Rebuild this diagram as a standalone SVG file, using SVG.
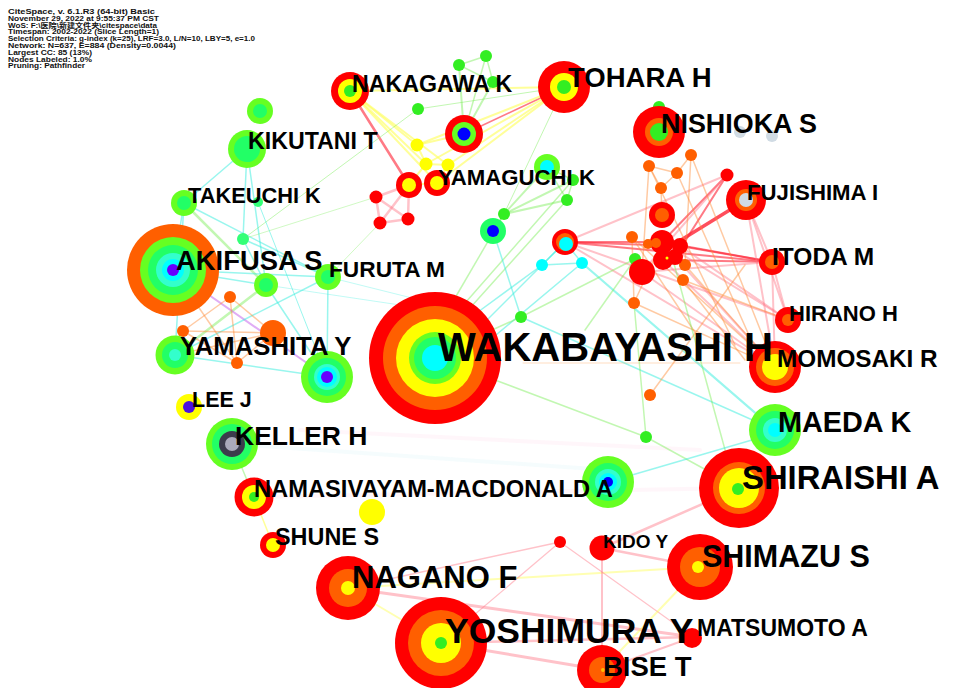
<svg xmlns="http://www.w3.org/2000/svg" width="967" height="688" viewBox="0 0 967 688">
<style>
.hd{font-family:"Liberation Sans","Noto Sans CJK SC",Arial,sans-serif;font-weight:bold;font-size:6.6px;fill:#111}
.lb{font-family:"Liberation Sans",Arial,sans-serif;font-weight:bold;fill:#000}
#edges line{stroke-linecap:round;fill:none}
.ec{stroke:#33eedd;stroke-opacity:.5;stroke-width:1.5}
.eg{stroke:#77ee55;stroke-opacity:.45;stroke-width:1.5}
.ey{stroke:#ffff55;stroke-opacity:.6;stroke-width:2}
.eo{stroke:#ff8a33;stroke-opacity:.45;stroke-width:1.5}
.er{stroke:#ff2233;stroke-opacity:.6;stroke-width:2}
.ep{stroke:#ff7788;stroke-opacity:.45;stroke-width:2}
.ev{stroke:#cc77ee;stroke-opacity:.6;stroke-width:2}
.ef{stroke:#99ddee;stroke-opacity:.1;stroke-width:4}
.rr{fill:#ff0000}.ro{fill:#ff5f00}.ry{fill:#ffff00}.rg{fill:#66ff22}.rm{fill:#22ff66}
.rt{fill:#33ffcc}.rc{fill:#00ffff}.rp{fill:#6600ff}.rb{fill:#0000ff}.rk{fill:#3c3c4c}
.rs{fill:#aaaabb}.rl{fill:#d0dbe4}.gs{fill:#33ee22}.gm{fill:#33ff77}
</style>
<rect width="967" height="688" fill="#fff"/>
<g id="header">
<text class="hd" x="8" y="14" textLength="147" lengthAdjust="spacingAndGlyphs">CiteSpace, v. 6.1.R3 (64-bit) Basic</text>
<text class="hd" x="8" y="20.8" textLength="151" lengthAdjust="spacingAndGlyphs">November 29, 2022 at 9:55:37 PM CST</text>
<text class="hd" x="8" y="27.6" textLength="149" lengthAdjust="spacingAndGlyphs">WoS: F:\医院\新建文件夹\citespace\data</text>
<text class="hd" x="8" y="34.4" textLength="151" lengthAdjust="spacingAndGlyphs">Timespan: 2002-2022 (Slice Length=1)</text>
<text class="hd" x="8" y="41.2" textLength="247" lengthAdjust="spacingAndGlyphs">Selection Criteria: g-index (k=25), LRF=3.0, L/N=10, LBY=5, e=1.0</text>
<text class="hd" x="8" y="48" textLength="168" lengthAdjust="spacingAndGlyphs">Network: N=637, E=884 (Density=0.0044)</text>
<text class="hd" x="8" y="54.8" textLength="84" lengthAdjust="spacingAndGlyphs">Largest CC: 85 (13%)</text>
<text class="hd" x="8" y="61.6" textLength="84" lengthAdjust="spacingAndGlyphs">Nodes Labeled: 1.0%</text>
<text class="hd" x="8" y="68.4" textLength="77" lengthAdjust="spacingAndGlyphs">Pruning: Pathfinder</text>
</g>
<g id="edges">
<line class="ef" x1="232" y1="444" x2="608" y2="470"/>
<line class="ef" x1="300" y1="430" x2="700" y2="450" style="stroke:#ffaacc"/>
<line class="ef" x1="254" y1="497" x2="739" y2="488" style="stroke:#ffaacc"/>
<line class="ey" x1="350" y1="91" x2="417" y2="145"/>
<line class="ey" x1="350" y1="91" x2="426" y2="164"/>
<line class="ey" x1="350" y1="91" x2="448" y2="165"/>
<line class="er" x1="350" y1="91" x2="409" y2="185" style="stroke-width:2.5"/>
<line class="ey" x1="350" y1="91" x2="437" y2="183"/>
<line class="ey" x1="350" y1="91" x2="564" y2="87"/>
<line class="er" x1="564" y1="87" x2="464" y2="134" style="stroke-width:1.5"/>
<line class="ey" x1="564" y1="87" x2="448" y2="165"/>
<line class="ey" x1="564" y1="87" x2="426" y2="164"/>
<line class="ey" x1="564" y1="87" x2="437" y2="183"/>
<line class="ey" x1="564" y1="87" x2="417" y2="145"/>
<line class="eg" x1="564" y1="87" x2="418" y2="109" style="stroke-width:1"/>
<line class="ey" x1="464" y1="134" x2="417" y2="145"/>
<line class="eg" x1="464" y1="134" x2="459" y2="65" style="stroke-width:2"/>
<line class="eg" x1="464" y1="134" x2="493" y2="82" style="stroke-width:2"/>
<line class="eg" x1="464" y1="134" x2="486" y2="56"/>
<line class="eg" x1="459" y1="65" x2="486" y2="56"/>
<line class="eg" x1="486" y1="56" x2="493" y2="82"/>
<line class="eg" x1="459" y1="65" x2="493" y2="82"/>
<line class="ep" x1="376" y1="197" x2="380" y2="223" style="stroke-width:2.5"/>
<line class="ep" x1="376" y1="197" x2="408" y2="219" style="stroke-width:2.5"/>
<line class="ep" x1="380" y1="223" x2="408" y2="219" style="stroke-width:2.5"/>
<line class="ep" x1="376" y1="197" x2="409" y2="185" style="stroke-width:2.5"/>
<line class="ep" x1="408" y1="219" x2="409" y2="185" style="stroke-width:2.5"/>
<line class="ep" x1="380" y1="223" x2="409" y2="185" style="stroke-width:2.5"/>
<line class="eg" x1="418" y1="109" x2="243" y2="239" style="stroke-width:1"/>
<line class="ey" x1="409" y1="185" x2="437" y2="183"/>
<line class="ey" x1="417" y1="145" x2="426" y2="164"/>
<line class="ey" x1="426" y1="164" x2="448" y2="165"/>
<line class="ey" x1="448" y1="165" x2="437" y2="183"/>
<line class="ey" x1="426" y1="164" x2="409" y2="185"/>
<line class="eg" x1="564" y1="87" x2="504" y2="214" style="stroke-width:1"/>
<line class="eg" x1="504" y1="214" x2="547" y2="167" style="stroke-width:2"/>
<line class="eg" x1="504" y1="214" x2="573" y2="180" style="stroke-width:2"/>
<line class="eg" x1="504" y1="214" x2="567" y2="200" style="stroke-width:2"/>
<line class="eg" x1="547" y1="167" x2="573" y2="180"/>
<line class="eg" x1="567" y1="200" x2="573" y2="180"/>
<line class="eg" x1="547" y1="167" x2="567" y2="200"/>
<line class="eg" x1="567" y1="200" x2="470" y2="308"/>
<line class="eg" x1="573" y1="180" x2="466" y2="302"/>
<line class="eg" x1="504" y1="214" x2="455" y2="298"/>
<line class="eg" x1="504" y1="214" x2="493" y2="231"/>
<line class="ec" x1="493" y1="231" x2="521" y2="317"/>
<line class="ec" x1="565" y1="242" x2="542" y2="265"/>
<line class="ec" x1="542" y1="265" x2="582" y2="263"/>
<line class="ec" x1="565" y1="242" x2="582" y2="263"/>
<line class="ec" x1="542" y1="265" x2="478" y2="312"/>
<line class="ec" x1="565" y1="242" x2="485" y2="322"/>
<line class="ec" x1="582" y1="263" x2="490" y2="340"/>
<line class="ec" x1="582" y1="263" x2="775" y2="430" style="stroke-width:2.2"/>
<line class="ec" x1="521" y1="317" x2="775" y2="430"/>
<line class="er" x1="565" y1="242" x2="772" y2="262"/>
<line class="ep" x1="565" y1="242" x2="727" y2="175"/>
<line class="er" x1="565" y1="242" x2="662" y2="242"/>
<line class="ep" x1="565" y1="242" x2="788" y2="320"/>
<line class="ep" x1="565" y1="242" x2="775" y2="367"/>
<line class="er" x1="565" y1="242" x2="680" y2="246"/>
<line class="er" x1="746" y1="200" x2="668" y2="248" style="stroke-width:3.5;stroke-opacity:.8"/>
<line class="er" x1="727" y1="175" x2="662" y2="242"/>
<line class="er" x1="727" y1="175" x2="675" y2="257"/>
<line class="ep" x1="727" y1="175" x2="642" y2="272"/>
<line class="er" x1="662" y1="242" x2="772" y2="262"/>
<line class="er" x1="680" y1="246" x2="772" y2="262"/>
<line class="er" x1="663" y1="260" x2="772" y2="262"/>
<line class="ep" x1="642" y1="272" x2="772" y2="262"/>
<line class="ep" x1="746" y1="200" x2="772" y2="262"/>
<line class="ep" x1="746" y1="200" x2="788" y2="320"/>
<line class="ep" x1="746" y1="200" x2="775" y2="367"/>
<line class="ep" x1="772" y1="262" x2="788" y2="320"/>
<line class="ep" x1="772" y1="262" x2="775" y2="367"/>
<line class="ep" x1="662" y1="242" x2="788" y2="320"/>
<line class="ep" x1="680" y1="246" x2="788" y2="320"/>
<line class="ep" x1="663" y1="260" x2="775" y2="367"/>
<line class="ep" x1="642" y1="272" x2="775" y2="367"/>
<line class="ep" x1="675" y1="257" x2="760" y2="350"/>
<line class="eo" x1="649" y1="166" x2="677" y2="173"/>
<line class="eo" x1="677" y1="173" x2="691" y2="155"/>
<line class="eo" x1="661" y1="188" x2="677" y2="173"/>
<line class="eo" x1="649" y1="166" x2="661" y2="188"/>
<line class="eo" x1="661" y1="188" x2="662" y2="215"/>
<line class="eo" x1="649" y1="166" x2="642" y2="272"/>
<line class="eo" x1="691" y1="155" x2="775" y2="367"/>
<line class="eo" x1="677" y1="173" x2="760" y2="360"/>
<line class="eo" x1="691" y1="155" x2="685" y2="265"/>
<line class="eo" x1="649" y1="166" x2="735" y2="345"/>
<line class="eo" x1="632" y1="237" x2="775" y2="367"/>
<line class="eo" x1="685" y1="265" x2="775" y2="367"/>
<line class="eo" x1="683" y1="280" x2="788" y2="320"/>
<line class="eo" x1="683" y1="280" x2="745" y2="360"/>
<line class="eo" x1="632" y1="237" x2="634" y2="303"/>
<line class="eo" x1="634" y1="303" x2="662" y2="242"/>
<line class="eo" x1="634" y1="303" x2="775" y2="367"/>
<line class="eo" x1="632" y1="237" x2="700" y2="340"/>
<line class="eo" x1="650" y1="395" x2="745" y2="265"/>
<line class="eo" x1="523" y1="363" x2="740" y2="363" style="stroke-opacity:.3;stroke-width:1"/>
<line class="eg" x1="634" y1="303" x2="646" y2="437"/>
<line class="eg" x1="646" y1="437" x2="739" y2="488"/>
<line class="eg" x1="495" y1="380" x2="646" y2="437"/>
<line class="eg" x1="673" y1="260" x2="727" y2="457"/>
<line class="eg" x1="635" y1="259" x2="521" y2="317"/>
<line class="eg" x1="521" y1="317" x2="492" y2="330"/>
<line class="eg" x1="635" y1="259" x2="585" y2="330"/>
<line class="ec" x1="608" y1="482" x2="752" y2="440"/>
<line class="ep" x1="348" y1="588" x2="560" y2="542" style="stroke-width:1.5"/>
<line class="ey" x1="348" y1="588" x2="700" y2="567" style="stroke-opacity:.45"/>
<line class="ep" x1="348" y1="588" x2="693" y2="637" style="stroke-width:3"/>
<line class="ey" x1="348" y1="588" x2="441" y2="643" style="stroke-opacity:.45"/>
<line class="ep" x1="441" y1="643" x2="560" y2="542" style="stroke-width:1.2"/>
<line class="ep" x1="560" y1="542" x2="693" y2="637" style="stroke-width:1.2"/>
<line class="ep" x1="602" y1="548" x2="602" y2="650"/>
<line class="ep" x1="602" y1="548" x2="700" y2="567" style="stroke-width:2.5"/>
<line class="ep" x1="602" y1="548" x2="739" y2="488" style="stroke-width:2.5"/>
<line class="ey" x1="700" y1="567" x2="602" y2="670" style="stroke-opacity:.45"/>
<line class="ep" x1="441" y1="643" x2="602" y2="670" style="stroke-width:3"/>
<line class="ep" x1="441" y1="643" x2="693" y2="637" style="stroke-width:2.5"/>
<line class="ep" x1="602" y1="670" x2="693" y2="637"/>
<line class="eg" x1="232" y1="444" x2="254" y2="497"/>
<line class="ey" x1="254" y1="497" x2="273" y2="545" style="stroke-width:1.5"/>
<line class="ec" x1="173" y1="270" x2="184" y2="203"/>
<line class="ec" x1="184" y1="203" x2="247" y2="149"/>
<line class="ec" x1="247" y1="149" x2="266" y2="285"/>
<line class="ec" x1="247" y1="149" x2="243" y2="239"/>
<line class="ec" x1="184" y1="203" x2="328" y2="277"/>
<line class="eg" x1="184" y1="203" x2="266" y2="285" style="stroke-width:2.5"/>
<line class="ec" x1="173" y1="270" x2="328" y2="277"/>
<line class="ec" x1="173" y1="270" x2="266" y2="285"/>
<line class="ec" x1="243" y1="239" x2="328" y2="277"/>
<line class="ec" x1="243" y1="239" x2="266" y2="285"/>
<line class="eg" x1="266" y1="285" x2="175" y2="355" style="stroke-width:2.5"/>
<line class="ec" x1="266" y1="285" x2="327" y2="377"/>
<line class="ec" x1="175" y1="355" x2="327" y2="377"/>
<line class="ev" x1="173" y1="270" x2="327" y2="377"/>
<line class="ec" x1="175" y1="355" x2="328" y2="277"/>
<line class="ec" x1="328" y1="277" x2="327" y2="377"/>
<line class="ec" x1="184" y1="203" x2="175" y2="355"/>
<line class="ec" x1="258" y1="202" x2="327" y2="377" style="stroke-width:1"/>
<line class="eo" x1="230" y1="297" x2="273" y2="333"/>
<line class="eo" x1="183" y1="331" x2="273" y2="333"/>
<line class="eo" x1="237" y1="363" x2="273" y2="333"/>
<line class="eo" x1="230" y1="297" x2="183" y2="331"/>
<line class="eo" x1="183" y1="331" x2="237" y2="363"/>
<line class="eo" x1="175" y1="355" x2="273" y2="333"/>
<line class="eo" x1="173" y1="270" x2="237" y2="363"/>
<line class="eo" x1="230" y1="297" x2="237" y2="363"/>
<line class="eg" x1="243" y1="239" x2="376" y2="197" style="stroke-width:1;stroke-opacity:.35"/>
<line class="eg" x1="328" y1="277" x2="380" y2="223" style="stroke-width:1;stroke-opacity:.35"/>
<line class="ec" x1="328" y1="277" x2="420" y2="300" style="stroke-width:1;stroke-opacity:.3"/>
<line class="ec" x1="266" y1="285" x2="400" y2="305" style="stroke-width:1;stroke-opacity:.3"/>
</g>
<g id="n-small">
<circle class="gs" cx="418" cy="109" r="6"/>
<circle class="gs" cx="459" cy="65" r="6"/>
<circle class="gs" cx="486" cy="56" r="6"/>
<circle class="gs" cx="493" cy="82" r="6"/>
<circle class="gs" cx="573" cy="180" r="6"/>
<circle class="gs" cx="567" cy="200" r="6"/>
<circle class="gs" cx="504" cy="214" r="6"/>
<circle class="gs" cx="659" cy="107" r="6"/>
<circle class="gm" cx="243" cy="239" r="6"/>
<circle class="gm" cx="258" cy="202" r="5"/>
<circle class="gs" cx="635" cy="259" r="6"/>
<circle class="gs" cx="521" cy="317" r="6"/>
<circle class="gs" cx="646" cy="437" r="6"/>
<circle class="rr" cx="376" cy="197" r="6.5"/>
<circle class="rr" cx="380" cy="223" r="6.5"/>
<circle class="rr" cx="408" cy="219" r="6.5"/>
<circle class="ry" cx="417" cy="145" r="6.5"/>
<circle class="ry" cx="426" cy="164" r="6.5"/>
<circle class="ry" cx="448" cy="165" r="6.5"/>
<circle class="rc" cx="542" cy="265" r="6"/>
<circle class="rc" cx="582" cy="263" r="6"/>
<circle class="rl" cx="740" cy="132" r="6"/>
<circle class="rl" cx="772" cy="136" r="6"/>
<circle class="ro" cx="691" cy="155" r="6"/>
<circle class="ro" cx="649" cy="166" r="6"/>
<circle class="ro" cx="677" cy="173" r="6"/>
<circle class="ro" cx="661" cy="188" r="6"/>
<circle class="ro" cx="632" cy="237" r="6"/>
<circle class="ro" cx="685" cy="265" r="6"/>
<circle class="ro" cx="683" cy="280" r="6"/>
<circle class="ro" cx="634" cy="303" r="6"/>
<circle class="ro" cx="650" cy="395" r="6"/>
<circle class="ro" cx="230" cy="297" r="6"/>
<circle class="ro" cx="183" cy="331" r="6"/>
<circle class="ro" cx="237" cy="363" r="6"/>
<circle class="ro" cx="273" cy="333" r="13"/>
<circle class="rr" cx="727" cy="175" r="6.5"/>
<circle class="rr" cx="560" cy="542" r="6"/>
<circle class="ry" cx="372" cy="512" r="13"/>
</g>
<g id="n-a1"><circle class="rg" cx="260" cy="111" r="13"/><circle class="rm" cx="260" cy="111" r="7"/></g>
<g id="n-a2"><circle class="rg" cx="266" cy="285" r="12"/><circle class="rm" cx="266" cy="285" r="7"/></g>
<g id="n-a3"><circle class="rg" cx="547" cy="167" r="13"/><circle class="rc" cx="547" cy="167" r="7"/></g>
<g id="n-a4"><circle class="rm" cx="493" cy="231" r="13"/><circle class="rb" cx="493" cy="231" r="6"/></g>
<g id="n-a5"><circle class="rr" cx="409" cy="185" r="13"/><circle class="ry" cx="409" cy="185" r="7"/></g>
<g id="n-a6"><circle class="rr" cx="464" cy="134" r="19"/><circle class="rg" cx="464" cy="134" r="12"/><circle class="rb" cx="464" cy="134" r="6.5"/></g>
<g id="n-a7"><circle class="rr" cx="565" cy="242" r="13"/><circle class="ro" cx="565" cy="242" r="9"/><circle class="rc" cx="566" cy="244" r="7"/></g>
<g id="n-a8"><circle class="rr" cx="662" cy="215" r="13"/><circle class="ro" cx="662" cy="215" r="7"/></g>
<g id="n-cluster">
<circle class="rr" cx="642" cy="272" r="13"/>
<circle class="rr" cx="662" cy="242" r="12"/>
<circle class="ro" cx="648" cy="244" r="5"/><circle class="ro" cx="656" cy="243" r="5"/>
<circle class="rr" cx="663" cy="260" r="10"/>
<circle class="rr" cx="680" cy="246" r="8"/>
<circle class="rr" cx="675" cy="257" r="8"/>
<circle class="ry" cx="667" cy="258" r="1.5"/>
</g>
<g id="n-a9"><circle class="rg" cx="327" cy="377" r="26"/><circle class="rm" cx="327" cy="377" r="19"/><circle class="rt" cx="327" cy="377" r="13"/><circle class="rc" cx="327" cy="377" r="10"/><circle class="rp" cx="327" cy="377" r="6"/></g>
<g id="n-a10"><circle class="rg" cx="608" cy="482" r="26"/><circle class="rm" cx="608" cy="482" r="19"/><circle class="rt" cx="608" cy="482" r="13"/><circle class="rc" cx="608" cy="482" r="9"/><circle class="rb" cx="608" cy="482" r="5"/></g>
<g id="furuta"><circle class="rg" cx="328" cy="277" r="13"/><circle class="rm" cx="328" cy="277" r="7"/><text class="lb" x="329" y="277" font-size="22.7">FURUTA M</text></g>
<g id="akifusa"><circle class="ro" cx="173" cy="270" r="46"/><circle class="rg" cx="173" cy="270" r="33"/><circle class="rm" cx="173" cy="270" r="25"/><circle class="rt" cx="173" cy="270" r="17"/><circle class="rc" cx="173" cy="270" r="11"/><circle class="rp" cx="173" cy="270" r="6"/><text class="lb" x="176" y="270" font-size="27.4">AKIFUSA S</text></g>
<g id="takeuchi"><circle class="rg" cx="184" cy="203" r="13"/><circle class="rm" cx="184" cy="203" r="7"/><text class="lb" x="188" y="203" font-size="21.8">TAKEUCHI K</text></g>
<g id="kikutani"><circle class="rg" cx="247" cy="149" r="19"/><circle class="rm" cx="247" cy="149" r="13"/><text class="lb" x="248" y="149" font-size="23.2">KIKUTANI T</text></g>
<g id="nakagawa"><circle class="rr" cx="350" cy="91" r="19"/><circle class="ry" cx="350" cy="91" r="12"/><circle class="gs" cx="350" cy="91" r="6"/><text class="lb" x="352" y="92" font-size="23.2">NAKAGAWA K</text></g>
<g id="yamaguchi"><circle class="rr" cx="437" cy="183" r="13"/><circle class="ry" cx="437" cy="183" r="7"/><text class="lb" x="438" y="185" font-size="22.2">YAMAGUCHI K</text></g>
<g id="tohara"><circle class="rr" cx="564" cy="87" r="26"/><circle class="ry" cx="564" cy="87" r="14"/><circle class="gs" cx="564" cy="87" r="7"/><text class="lb" x="568" y="87" font-size="27.5">TOHARA H</text></g>
<g id="nishioka"><circle class="rr" cx="659" cy="132" r="26"/><circle class="ro" cx="659" cy="132" r="14"/><circle class="gs" cx="659" cy="132" r="9"/><text class="lb" x="661" y="133" font-size="26.9">NISHIOKA S</text></g>
<g id="fujishima"><circle class="rr" cx="746" cy="200" r="20"/><circle class="ro" cx="746" cy="200" r="11"/><circle class="rl" cx="746" cy="200" r="7"/><text class="lb" x="747" y="200" font-size="22.2">FUJISHIMA I</text></g>
<g id="itoda"><circle class="rr" cx="772" cy="262" r="13"/><circle class="ro" cx="772" cy="262" r="7"/><text class="lb" x="772" y="265" font-size="24.5">ITODA M</text></g>
<g id="hirano"><circle class="rr" cx="788" cy="320" r="13"/><circle class="ro" cx="788" cy="320" r="6"/><text class="lb" x="789" y="321" font-size="22">HIRANO H</text></g>
<g id="momosaki"><circle class="rr" cx="775" cy="367" r="26"/><circle class="ro" cx="775" cy="367" r="19"/><circle class="ry" cx="775" cy="367" r="13"/><text class="lb" x="777" y="367" font-size="24.3">MOMOSAKI R</text></g>
<g id="wakabayashi"><circle class="rr" cx="435" cy="358" r="66"/><circle class="ro" cx="435" cy="358" r="52"/><circle class="ry" cx="435" cy="358" r="39"/><circle class="rg" cx="435" cy="358" r="26"/><circle class="rm" cx="435" cy="358" r="21"/><circle class="rc" cx="435" cy="358" r="13"/><text class="lb" x="438" y="361" font-size="40">WAKABAYASHI H</text></g>
<g id="maeda"><circle class="rg" cx="775" cy="430" r="26"/><circle class="rm" cx="775" cy="430" r="19"/><circle class="rt" cx="775" cy="430" r="12"/><circle class="rc" cx="775" cy="430" r="7"/><text class="lb" x="778" y="432" font-size="28.8">MAEDA K</text></g>
<g id="shiraishi"><circle class="rr" cx="739" cy="488" r="40"/><circle class="ro" cx="739" cy="488" r="26"/><circle class="ry" cx="739" cy="488" r="20"/><circle class="gs" cx="738" cy="489" r="6"/><text class="lb" x="742" y="489" font-size="32.8">SHIRAISHI A</text></g>
<g id="kido"><circle class="rr" cx="602" cy="548" r="12.5"/><text class="lb" x="603" y="548" font-size="19">KIDO Y</text></g>
<g id="shimazu"><circle class="rr" cx="700" cy="567" r="33"/><circle class="ro" cx="700" cy="567" r="20"/><circle class="ry" cx="698" cy="567" r="6"/><text class="lb" x="702" y="567" font-size="30.5">SHIMAZU S</text></g>
<g id="matsumoto"><circle class="rr" cx="692" cy="638" r="10"/><text class="lb" x="697" y="636" font-size="23">MATSUMOTO A</text></g>
<g id="yoshimura"><circle class="rr" cx="441" cy="643" r="46"/><circle class="ro" cx="441" cy="643" r="33"/><circle class="ry" cx="441" cy="643" r="20"/><circle class="gs" cx="441" cy="643" r="6"/><text class="lb" x="445" y="643" font-size="35.5">YOSHIMURA Y</text></g>
<g id="bise"><circle class="rr" cx="602" cy="670" r="25"/><circle class="ro" cx="602" cy="670" r="13"/><circle class="ry" cx="603" cy="670" r="2" opacity=".6"/><text class="lb" x="603" y="676" font-size="27.5">BISE T</text></g>
<g id="nagano"><circle class="rr" cx="348" cy="588" r="32"/><circle class="ro" cx="348" cy="588" r="19"/><circle class="ry" cx="348" cy="588" r="7"/><text class="lb" x="352" y="588" font-size="31">NAGANO F</text></g>
<g id="shune"><circle class="rr" cx="273" cy="545" r="13"/><circle class="ry" cx="273" cy="545" r="7"/><text class="lb" x="275" y="545" font-size="23.4">SHUNE S</text></g>
<g id="namasivayam"><circle class="rr" cx="254" cy="497" r="19.5"/><circle class="ry" cx="254" cy="497" r="12"/><circle class="gs" cx="254" cy="497" r="5"/><text class="lb" x="254" y="497" font-size="23.7">NAMASIVAYAM-MACDONALD A</text></g>
<g id="keller"><circle class="rg" cx="232" cy="444" r="26"/><circle class="rm" cx="232" cy="444" r="20"/><circle class="rk" cx="232" cy="444" r="13"/><circle class="rs" cx="232" cy="444" r="7"/><text class="lb" x="235" y="445" font-size="26.5">KELLER H</text></g>
<g id="lee"><circle class="ry" cx="189" cy="407" r="13"/><circle class="rp" cx="189" cy="407" r="6" style="fill:#4a10e0"/><text class="lb" x="192" y="407" font-size="21.5">LEE J</text></g>
<g id="yamashita"><circle class="rg" cx="175" cy="355" r="19.5"/><circle class="rm" cx="175" cy="355" r="13"/><circle class="rt" cx="175" cy="355" r="6"/><text class="lb" x="180" y="355" font-size="25.7">YAMASHITA Y</text></g>
</svg>
